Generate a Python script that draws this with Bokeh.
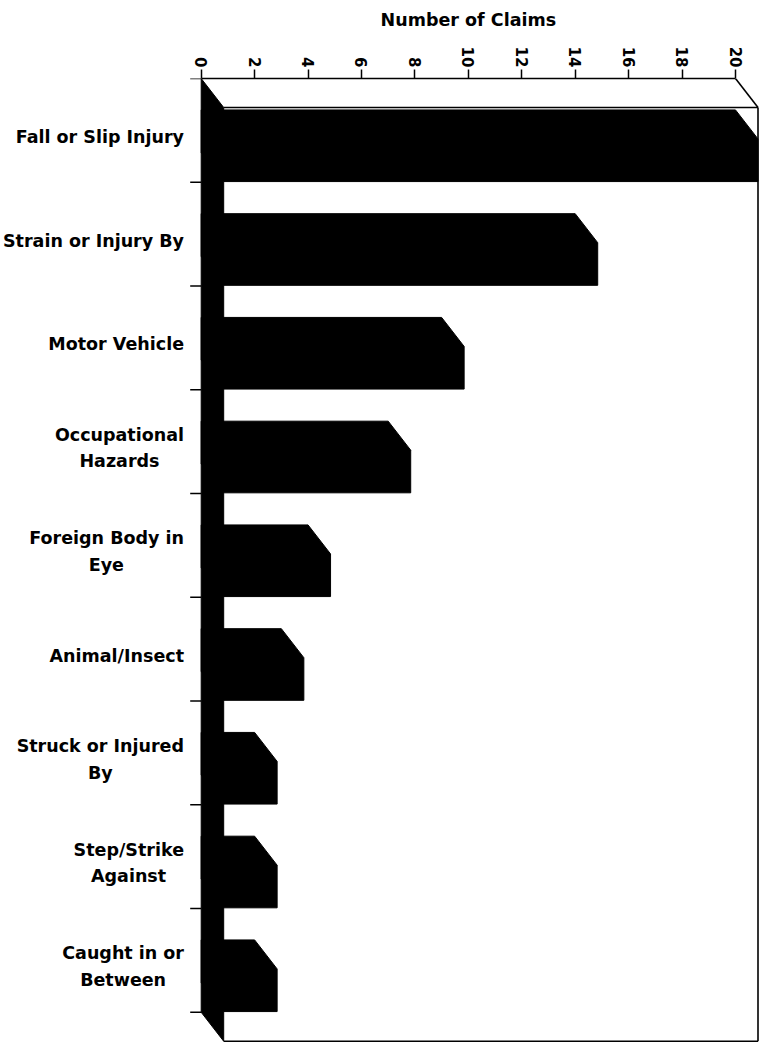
import math
from bokeh.plotting import figure
from bokeh.layouts import column
from bokeh.models import Range1d, FixedTicker, ColumnDataSource
from bokeh.core.properties import value
from bokeh.embed import file_html
from bokeh.resources import INLINE

# ---------------- data ----------------
categories = ["Fall or Slip Injury", "Strain or Injury By", "Motor Vehicle",
              "Occupational Hazards", "Foreign Body in Eye", "Animal/Insect",
              "Struck or Injured By", "Step/Strike Against", "Caught in or Between"]
label_lines = [["Fall or Slip Injury"], ["Strain or Injury By"], ["Motor Vehicle"],
               ["Occupational", "Hazards"], ["Foreign Body in", "Eye"], ["Animal/Insect"],
               ["Struck or Injured", "By"], ["Step/Strike", "Against"], ["Caught in or", "Between"]]
claims = [20, 14, 9, 7, 4, 3, 2, 2, 2]
x_ticks = [0, 2, 4, 6, 8, 10, 12, 14, 16, 18, 20]
axis_title = "Number of Claims"

# ---------------- layout (pixels) ----------------
FIG_W, FIG_H = 760, 1044
TITLE_H = 36
X0_PX = 200.7          # x of value 0 on back plane
PX_PER_UNIT = 26.715   # pixels per claim
TOP_PX = 78.0          # y of back-plane top
PITCH = 103.75         # pixels per category
DX_PX, DY_PX = 22.5, 29.0   # 3D depth offset
LABEL_RIGHT_PX = 183.5
TITLE_BASELINE_PX = 19.5
FONT = "DejaVu Sans"
LABEL_SIZE = 17.5
TITLE_SIZE = 17.5

n = len(categories)
xmax = x_ticks[-1]
x_range = Range1d(-X0_PX / PX_PER_UNIT, (FIG_W - X0_PX) / PX_PER_UNIT)
y_bottom = (FIG_H - TOP_PX) / PITCH
dx = DX_PX / PX_PER_UNIT
dy = DY_PX / PITCH

# ---- title strip ----
tf = figure(width=FIG_W, height=TITLE_H, output_backend="svg", toolbar_location=None,
            x_axis_location=None, y_axis_location=None,
            x_range=x_range, y_range=Range1d(TITLE_H, 0),
            min_border=0)
tf.outline_line_color = None
tf.grid.visible = False
tf.text(x=[(x_ticks[0] + x_ticks[-1]) / 2], y=[TITLE_BASELINE_PX], text=[axis_title],
        text_align="center", text_baseline="alphabetic", text_font=value(FONT),
        text_font_style="bold", text_font_size=f"{TITLE_SIZE}px", text_color="black")

# ---- main chart ----
p = figure(width=FIG_W, height=FIG_H - TITLE_H, output_backend="svg", toolbar_location=None,
           x_axis_location="above", y_axis_location=None,
           x_range=x_range, y_range=Range1d(y_bottom, 0),
           min_border_left=0, min_border_right=0, min_border_bottom=0,
           min_border_top=int(TOP_PX - TITLE_H))
p.outline_line_color = None
p.grid.visible = False
p.background_fill_color = "white"
p.border_fill_color = "white"

# left black wall (floor of the 3D bars)
p.patch([0, dx, dx, 0], [0, dy, n + dy, n], fill_color="black", line_color="black", line_width=1)

# bars
a, b = 0.303, 0.714
xs, ys = [], []
for i, v in enumerate(claims):
    xs.append([0, v, v + dx, v + dx, dx, 0])
    ys.append([i + a, i + a, i + a + dy, i + b + dy, i + b + dy, i + b])
p.patches(xs, ys, fill_color="black", line_color="black", line_width=1)

# box outline
p.multi_line(
    [[xmax, xmax + dx], [dx, xmax + dx], [xmax + dx, xmax + dx], [dx, xmax + dx]],
    [[0, dy], [dy, dy], [dy, n + dy], [n + dy, n + dy]],
    line_color="black", line_width=1.6)

# category boundary ticks
tick_len = 11 / PX_PER_UNIT
bounds_y = list(range(n + 1))
p.segment(x0=[-tick_len] * len(bounds_y), y0=bounds_y, x1=[0] * len(bounds_y), y1=bounds_y,
          line_color="black", line_width=1.5)

# category labels (multi-line labels centred within a right-aligned block)
W = {' ': .348, 'A': .774, 'B': .762, 'C': .734, 'E': .683, 'F': .683, 'H': .837, 'I': .372,
     'M': .995, 'N': .838, 'O': .850, 'S': .720, 'V': .774, 'a': .675, 'b': .716, 'c': .593,
     'd': .716, 'e': .678, 'f': .435, 'g': .716, 'h': .712, 'i': .343, 'j': .343, 'k': .665,
     'l': .343, 'm': 1.042, 'n': .712, 'o': .687, 'p': .716, 'r': .493, 's': .595, 't': .478,
     'u': .712, 'w': .924, 'y': .652, 'z': .582, '/': .365}


def text_w(s, size=LABEL_SIZE):
    return sum(W.get(c, .65) for c in s) * size


right_u = (LABEL_RIGHT_PX - X0_PX) / PX_PER_UNIT
cap = 0.729 * LABEL_SIZE
line_gap = 26.7
lx, ly, lt = [], [], []
for i, lines in enumerate(label_lines):
    wmax = max(text_w(s) for s in lines)
    k = len(lines)
    for j, s in enumerate(lines):
        off = (j - (k - 1) / 2) * line_gap + cap / 2
        lx.append(right_u - (wmax - text_w(s)) / 2 / PX_PER_UNIT)
        ly.append(i + 0.5 + off / PITCH)
        lt.append(s)
src = ColumnDataSource(dict(x=lx, y=ly, text=lt))
p.text(x="x", y="y", text="text", source=src, text_align="right", text_baseline="alphabetic",
       text_font=value(FONT), text_font_style="bold", text_font_size=f"{LABEL_SIZE}px",
       text_color="black")

# top axis
ax = p.xaxis[0]
ax.ticker = FixedTicker(ticks=x_ticks)
ax.bounds = (x_ticks[0], x_ticks[-1])
ax.major_label_orientation = -math.pi / 2
ax.major_label_text_font = FONT
ax.major_label_text_font_style = "bold"
ax.major_label_text_font_size = "15px"
ax.major_label_text_color = "black"
ax.major_label_standoff = 2
ax.major_tick_out = 9
ax.major_tick_in = 0
ax.minor_tick_out = 0
ax.minor_tick_in = 0
ax.axis_line_width = 1.6
ax.axis_line_color = "black"
ax.major_tick_line_width = 1.5
ax.major_tick_line_color = "black"

layout = column(tf, p, spacing=0)
open("out.html", "w").write(file_html(layout, INLINE))
